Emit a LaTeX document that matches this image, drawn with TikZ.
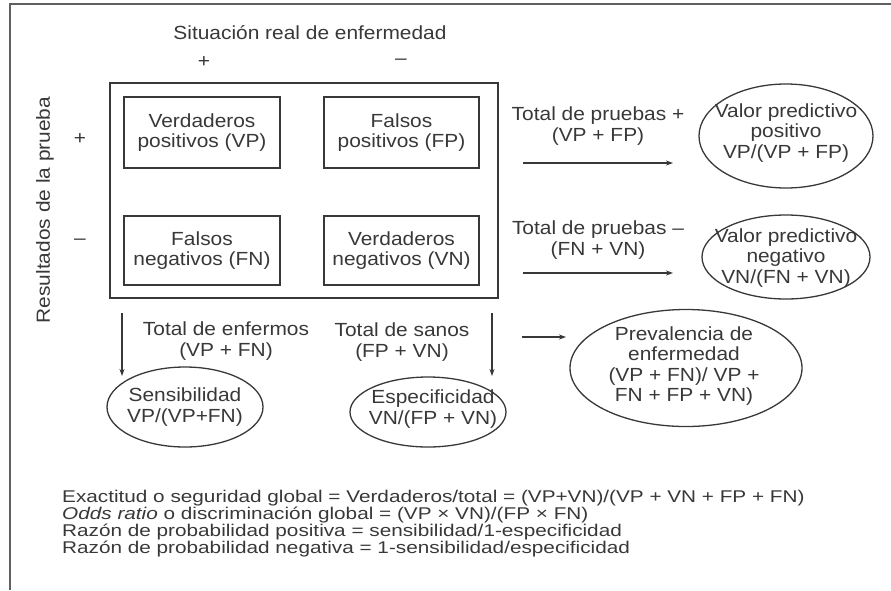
\documentclass[tikz,border=0pt]{standalone}
\usepackage{fontspec}
\setmainfont{Liberation Sans}[FakeStretch=1.1]
\newfontfamily\notefont{Liberation Sans}[FakeStretch=1.22]
\usetikzlibrary{shapes.geometric,arrows.meta}
\definecolor{ink}{gray}{0.22}
\begin{document}
\begin{tikzpicture}[x=1pt,y=-1pt,
  txt/.style={font=\fontsize{19}{20.5}\selectfont, text=ink, align=center, inner sep=0pt},
  note/.style={font=\notefont\fontsize{17}{18}\selectfont, text=ink, anchor=base west, inner sep=0pt},
  cell/.style={draw=ink, line width=1.3pt, rectangle, inner sep=0pt, txt},
  ell/.style={draw=ink, line width=1.3pt, ellipse, inner sep=0pt},
  arr/.style={draw=ink, line width=1.2pt, -{Stealth[length=7pt,width=5pt]}},
  frame/.style={draw=ink!80, line width=2pt}]
\useasboundingbox (0,0) rectangle (891,590);
% outer frame (top and left edges)
\coordinate (fl) at (10,590);
\coordinate (fc) at (10,4);
\coordinate (fr) at (891,4);
\draw[frame] (fl) -- (fc) -- (fr);

% headers
\node[txt] (title) at (310,33) {Situación real de enfermedad};
\node[txt] (cplus) at (204,62) {+};
\node[txt] (cminus) at (401,62) {–};
\node[txt, rotate=90] (rlabel) at (45,210) {Resultados de la prueba};
\node[txt] (rplus) at (80,139) {+};
\node[txt] (rminus) at (80,242) {–};

% 2x2 table
\node[draw=ink, line width=1.3pt, rectangle, minimum width=388pt, minimum height=215pt, inner sep=0pt] (tabla) at (304,190.5) {};
\node[cell, minimum width=156pt, minimum height=71pt] (vp) at (202,132.5) {Verdaderos\\positivos (VP)};
\node[cell, minimum width=155pt, minimum height=71pt] (fp) at (401.5,132.5) {Falsos\\positivos (FP)};
\node[cell, minimum width=156pt, minimum height=69pt] (fn) at (202,250.5) {Falsos\\negativos (FN)};
\node[cell, minimum width=155pt, minimum height=69pt] (vn) at (401.5,250.5) {Verdaderos\\negativos (VN)};

% right side: predictive values
\node[txt] (tpos) at (598,126) {Total de pruebas +\\(VP + FP)};
\coordinate (a1s) at (523,163);
\coordinate (a1e) at (673,163);
\draw[arr] (a1s) -- (a1e);
\node[ell, minimum width=174pt, minimum height=104pt] (vpp) at (786,136) {};
\node[txt] (vpptxt) at (786,133) {Valor predictivo\\positivo\\VP/(VP + FP)};

\node[txt] (tneg) at (598,240) {Total de pruebas –\\(FN + VN)};
\coordinate (a2s) at (523,273);
\coordinate (a2e) at (673,273);
\draw[arr] (a2s) -- (a2e);
\node[ell, minimum width=168pt, minimum height=84pt] (vpn) at (786,257) {};
\node[txt] (vpntxt) at (786,258) {Valor predictivo\\negativo\\VN/(FN + VN)};

% bottom: sensitivity, specificity, prevalence
\node[txt] (tenf) at (226,341) {Total de enfermos\\(VP + FN)};
\node[txt] (tsan) at (402,342) {Total de sanos\\(FP + VN)};
\coordinate (a3s) at (122,313);
\coordinate (a3e) at (122,376);
\draw[arr] (a3s) -- (a3e);
\coordinate (a4s) at (492,313);
\coordinate (a4e) at (492,376);
\draw[arr] (a4s) -- (a4e);
\coordinate (a5s) at (522,337);
\coordinate (a5e) at (566,337);
\draw[arr] (a5s) -- (a5e);

\node[ell, minimum width=156pt, minimum height=80pt] (sens) at (185,407) {};
\node[txt] (senstxt) at (185,407) {Sensibilidad\\VP/(VP+FN)};
\node[ell, minimum width=156pt, minimum height=70pt] (esp) at (428,412) {};
\node[txt] (esptxt) at (433,409) {Especificidad\\VN/(FP + VN)};
\node[ell, minimum width=232pt, minimum height=117pt] (prev) at (686,368) {};
\node[txt] (prevtxt) at (684,366) {Prevalencia de\\enfermedad\\(VP + FN)/ VP +\\FN + FP + VN)};

% formulas
\node[note] (f1) at (62,502) {Exactitud o seguridad global = Verdaderos/total = (VP+VN)/(VP + VN + FP + FN)};
\node[note] (f2) at (62,519) {\textit{Odds ratio} o discriminación global = (VP × VN)/(FP × FN)};
\node[note] (f3) at (62,536) {Razón de probabilidad positiva = sensibilidad/1-especificidad};
\node[note] (f4) at (62,553) {Razón de probabilidad negativa = 1-sensibilidad/especificidad};
\end{tikzpicture}
\end{document}
